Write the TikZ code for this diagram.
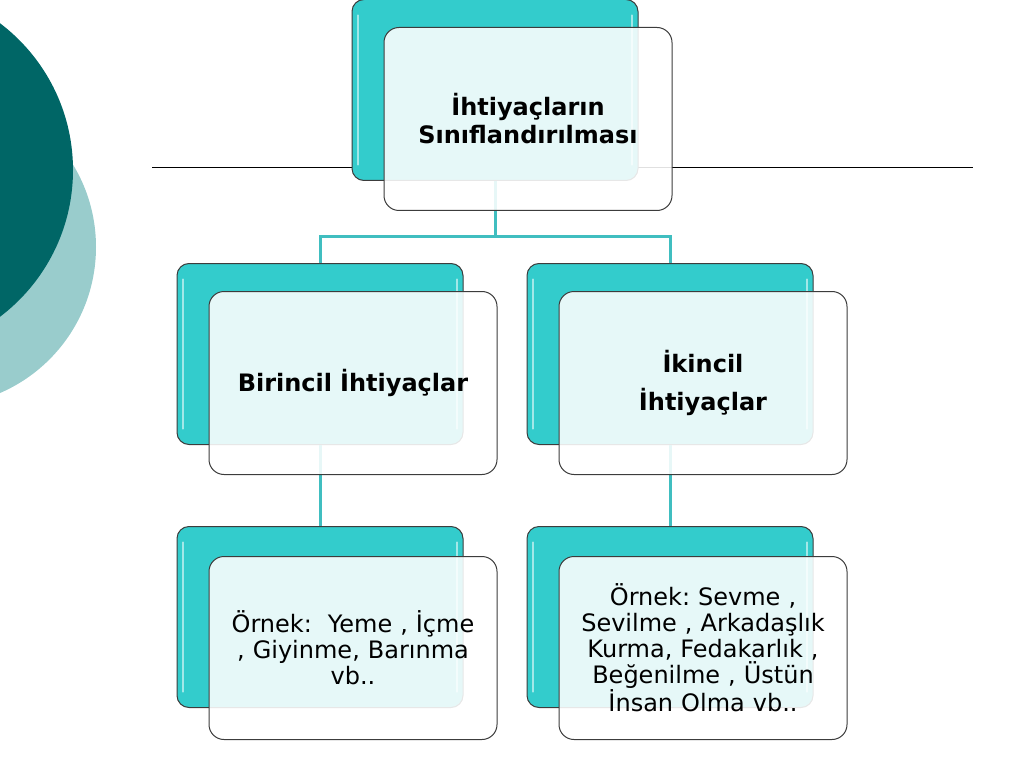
\documentclass[tikz,border=0pt]{standalone}
\usepackage{fontspec}
\setmainfont{DejaVu Sans}
\usepackage{tikz}
\usetikzlibrary{positioning}
\frenchspacing
\definecolor{tealfill}{RGB}{51,204,204}
\definecolor{tealline}{RGB}{64,190,192}
\definecolor{darkdisc}{RGB}{0,102,102}
\definecolor{lightdisc}{RGB}{153,204,204}
\definecolor{frameline}{RGB}{60,60,60}
\tikzset{
   backbox/.style={
      draw=frameline, line width=1pt, fill=tealfill,
      rounded corners=12pt, minimum width=286pt, minimum height=181pt,
      path picture={
         \draw[white!55!tealfill, line width=2.5pt, line cap=round]
            ([xshift=6pt,yshift=-16pt]path picture bounding box.north west) --
            ([xshift=6pt,yshift=16pt]path picture bounding box.south west);
         \draw[white!55!tealfill, line width=2.5pt, line cap=round]
            ([xshift=-6pt,yshift=-16pt]path picture bounding box.north east) --
            ([xshift=-6pt,yshift=16pt]path picture bounding box.south east);}},
   frontbox/.style={
      draw=frameline, line width=1pt, fill=white, fill opacity=0.88,
      text opacity=1, rounded corners=15pt,
      minimum width=288pt, minimum height=183pt,
      align=center, text width=280pt},
   titletext/.style={font=\bfseries\fontsize{24}{28}\selectfont},
   bodytext/.style={font=\fontsize{24}{26}\selectfont},
   branch/.style={draw=tealline, line width=3pt},
}
\begin{document}
\begin{tikzpicture}[x=1pt,y=-1pt]
   \useasboundingbox (0,0) rectangle (1024,767);
   \clip (0,0) rectangle (1024,767);
   % discs on the left edge
   \fill[lightdisc] (-63,247) circle (159);
   \fill[darkdisc] (-111,170) circle (184);
   \draw[black, line width=1pt] (152,168) -- (973,168);
   % back boxes
   \node[backbox] (topback) at (495,90) {};
   \node[backbox] (firstback) at (320,354) {};
   \node[backbox] (secondback) at (670,354) {};
   \node[backbox] (firstexback) at (320,617) {};
   \node[backbox] (secondexback) at (670,617) {};
   % connectors
   \coordinate (split) at (495,236);
   \draw[branch] (topback.south) -- (split);
   \draw[branch] (firstback.north) |- (split) -| (secondback.north);
   \draw[branch] (firstback.south) -- (firstexback.north);
   \draw[branch] (secondback.south) -- (secondexback.north);
   % front boxes
   \node[frontbox, titletext, xshift=33pt, yshift=-29pt] (top) at (topback)
      {İhtiyaçların\\Sınıflandırılması};
   \node[frontbox, titletext, xshift=33pt, yshift=-29pt] (first) at (firstback)
      {Birincil İhtiyaçlar};
   \node[frontbox, titletext, font=\bfseries\fontsize{24}{38}\selectfont,
      xshift=33pt, yshift=-29pt] (second) at (secondback)
      {İkincil\\İhtiyaçlar};
   \node[frontbox, bodytext, xshift=33pt, yshift=-31pt] (firstex) at (firstexback)
      {Örnek:\ \ Yeme , İçme\\, Giyinme, Barınma\\vb..};
   \node[frontbox, bodytext, xshift=33pt, yshift=-31pt] (secondex) at (secondexback)
      {Örnek: Sevme ,\\Sevilme , Arkadaşlık\\Kurma, Fedakarlık ,\\Beğenilme , Üstün\\İnsan Olma vb..};
\end{tikzpicture}
\end{document}
